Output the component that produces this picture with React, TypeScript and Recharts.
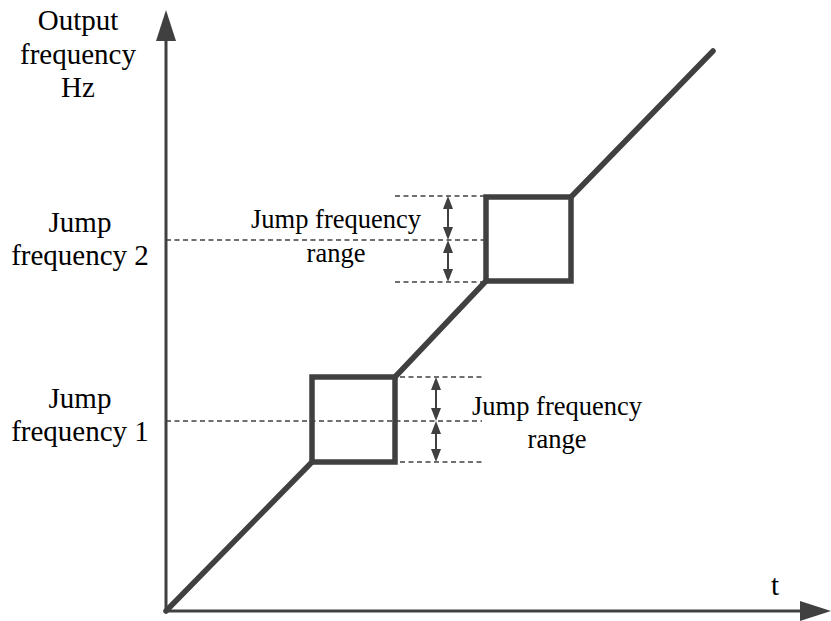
import React from 'react';
import { ComposedChart, Line, XAxis, YAxis, ReferenceLine, ReferenceDot } from 'recharts';

// Output frequency path (t = time units, f = frequency units)
const rampToJump1 = [{ t: 0, f: 0 }, { t: 146, f: 149 }];
const jump1Box = [
  { t: 146, f: 149 }, { t: 146, f: 234 }, { t: 229, f: 234 }, { t: 229, f: 149 }, { t: 146, f: 149 },
];
const rampToJump2 = [{ t: 229, f: 234 }, { t: 320, f: 330 }];
const jump2Box = [
  { t: 320, f: 330 }, { t: 320, f: 414 }, { t: 405, f: 414 }, { t: 405, f: 330 }, { t: 320, f: 330 },
];
const rampToEnd = [{ t: 405, f: 414 }, { t: 547, f: 560 }];

// Jump frequency levels
const jump1 = { center: 190, low: 149, high: 234, rangeStart: 234, rangeEnd: 316, arrowT: 270, centerEnd: 316 };
const jump2 = { center: 371, low: 329, high: 415, rangeStart: 229, rangeEnd: 320, arrowT: 282, centerEnd: 320 };

const axisMax = { t: 665, f: 601 };

const yTitle = ['Output', 'frequency', 'Hz'];
const jump2Label = ['Jump', 'frequency 2'];
const jump1Label = ['Jump', 'frequency 1'];
const rangeLabel = ['Jump frequency', 'range'];
const xTitle = ['t'];

const INK = '#404040';
const FONT = "'Liberation Serif', 'Times New Roman', serif";

const AxisArrow = (props: any) => {
  const { x1, y1, x2, y2 } = props;
  const dx = x2 - x1;
  const dy = y2 - y1;
  const len = Math.sqrt(dx * dx + dy * dy) || 1;
  const ux = dx / len;
  const uy = dy / len;
  const L = 31;
  const W = 10;
  const bx = x2 - ux * L;
  const by = y2 - uy * L;
  const px = -uy;
  const py = ux;
  return (
    <g>
      <line x1={x1} y1={y1} x2={bx + ux * 2} y2={by + uy * 2} stroke={INK} strokeWidth={3} />
      <polygon
        points={`${x2},${y2} ${bx + px * W},${by + py * W} ${bx - px * W},${by - py * W}`}
        fill={INK}
      />
    </g>
  );
};

const DoubleArrow = (props: any) => {
  const { x1, y1, y2 } = props;
  const top = Math.min(y1, y2);
  const bot = Math.max(y1, y2);
  const L = 13;
  const W = 5;
  return (
    <g>
      <line x1={x1} y1={top + L - 2} x2={x1} y2={bot - L + 2} stroke={INK} strokeWidth={2} />
      <polygon points={`${x1},${top} ${x1 - W},${top + L} ${x1 + W},${top + L}`} fill={INK} />
      <polygon points={`${x1},${bot} ${x1 - W},${bot - L} ${x1 + W},${bot - L}`} fill={INK} />
    </g>
  );
};

const makeTextShape = (lines: string[], size: number, gap: number) => (props: any) => {
  const { cx, cy } = props;
  return (
    <text x={cx} y={cy} textAnchor="middle" style={{ fontFamily: FONT, fontSize: size }} fill="#000">
      {lines.map((l, i) => (
        <tspan key={i} x={cx} dy={i === 0 ? 0 : gap}>
          {l}
        </tspan>
      ))}
    </text>
  );
};

const dash = '5 3.5';

export default function App() {
  return (
    <div style={{ position: 'absolute', left: 0, top: 0, width: 831, height: 621, background: '#fff' }}>
      <ComposedChart width={831} height={621} margin={{ top: 0, right: 0, bottom: 0, left: 156 }}>
        <XAxis type="number" dataKey="t" domain={[-10, 665]} allowDataOverflow hide />
        <YAxis type="number" dataKey="f" domain={[-10, 611]} allowDataOverflow hide />

        <ReferenceLine segment={[{ x: 0, y: 0 }, { x: 0, y: axisMax.f }]} ifOverflow="visible" shape={AxisArrow} />
        <ReferenceLine segment={[{ x: 0, y: 0 }, { x: axisMax.t, y: 0 }]} ifOverflow="visible" shape={AxisArrow} />

        <ReferenceLine segment={[{ x: 0, y: jump2.center }, { x: jump2.centerEnd, y: jump2.center }]} stroke={INK} strokeWidth={1.3} strokeDasharray={dash} ifOverflow="visible" />
        <ReferenceLine segment={[{ x: jump2.rangeStart, y: jump2.high }, { x: jump2.rangeEnd, y: jump2.high }]} stroke={INK} strokeWidth={1.3} strokeDasharray={dash} ifOverflow="visible" />
        <ReferenceLine segment={[{ x: jump2.rangeStart, y: jump2.low }, { x: jump2.rangeEnd, y: jump2.low }]} stroke={INK} strokeWidth={1.3} strokeDasharray={dash} ifOverflow="visible" />

        <ReferenceLine segment={[{ x: 0, y: jump1.center }, { x: jump1.centerEnd, y: jump1.center }]} stroke={INK} strokeWidth={1.3} strokeDasharray={dash} ifOverflow="visible" />
        <ReferenceLine segment={[{ x: jump1.rangeStart, y: jump1.high }, { x: jump1.rangeEnd, y: jump1.high }]} stroke={INK} strokeWidth={1.3} strokeDasharray={dash} ifOverflow="visible" />
        <ReferenceLine segment={[{ x: jump1.rangeStart, y: jump1.low }, { x: jump1.rangeEnd, y: jump1.low }]} stroke={INK} strokeWidth={1.3} strokeDasharray={dash} ifOverflow="visible" />

        <ReferenceLine segment={[{ x: jump2.arrowT, y: jump2.high }, { x: jump2.arrowT, y: jump2.center }]} ifOverflow="visible" shape={DoubleArrow} />
        <ReferenceLine segment={[{ x: jump2.arrowT, y: jump2.center }, { x: jump2.arrowT, y: jump2.low }]} ifOverflow="visible" shape={DoubleArrow} />
        <ReferenceLine segment={[{ x: jump1.arrowT, y: jump1.high }, { x: jump1.arrowT, y: jump1.center }]} ifOverflow="visible" shape={DoubleArrow} />
        <ReferenceLine segment={[{ x: jump1.arrowT, y: jump1.center }, { x: jump1.arrowT, y: jump1.low }]} ifOverflow="visible" shape={DoubleArrow} />

        <Line data={rampToJump1} dataKey="f" stroke={INK} strokeWidth={5.5} strokeLinecap="round" dot={false} activeDot={false} isAnimationActive={false} />
        <Line data={jump1Box} dataKey="f" stroke={INK} strokeWidth={5.5} strokeLinecap="square" strokeLinejoin="miter" dot={false} activeDot={false} isAnimationActive={false} />
        <Line data={rampToJump2} dataKey="f" stroke={INK} strokeWidth={5.5} strokeLinecap="round" dot={false} activeDot={false} isAnimationActive={false} />
        <Line data={jump2Box} dataKey="f" stroke={INK} strokeWidth={5.5} strokeLinecap="square" strokeLinejoin="miter" dot={false} activeDot={false} isAnimationActive={false} />
        <Line data={rampToEnd} dataKey="f" stroke={INK} strokeWidth={5.5} strokeLinecap="round" dot={false} activeDot={false} isAnimationActive={false} />

        <ReferenceDot x={-88} y={581} r={0} ifOverflow="visible" shape={makeTextShape(yTitle, 29, 33.5)} />
        <ReferenceDot x={-86} y={379} r={0} ifOverflow="visible" shape={makeTextShape(jump2Label, 29, 33)} />
        <ReferenceDot x={-86} y={203} r={0} ifOverflow="visible" shape={makeTextShape(jump1Label, 29, 33)} />
        <ReferenceDot x={170} y={383} r={0} ifOverflow="visible" shape={makeTextShape(rangeLabel, 26.5, 34)} />
        <ReferenceDot x={391} y={196} r={0} ifOverflow="visible" shape={makeTextShape(rangeLabel, 26.5, 33)} />
        <ReferenceDot x={609} y={16} r={0} ifOverflow="visible" shape={makeTextShape(xTitle, 29, 0)} />
      </ComposedChart>
    </div>
  );
}
